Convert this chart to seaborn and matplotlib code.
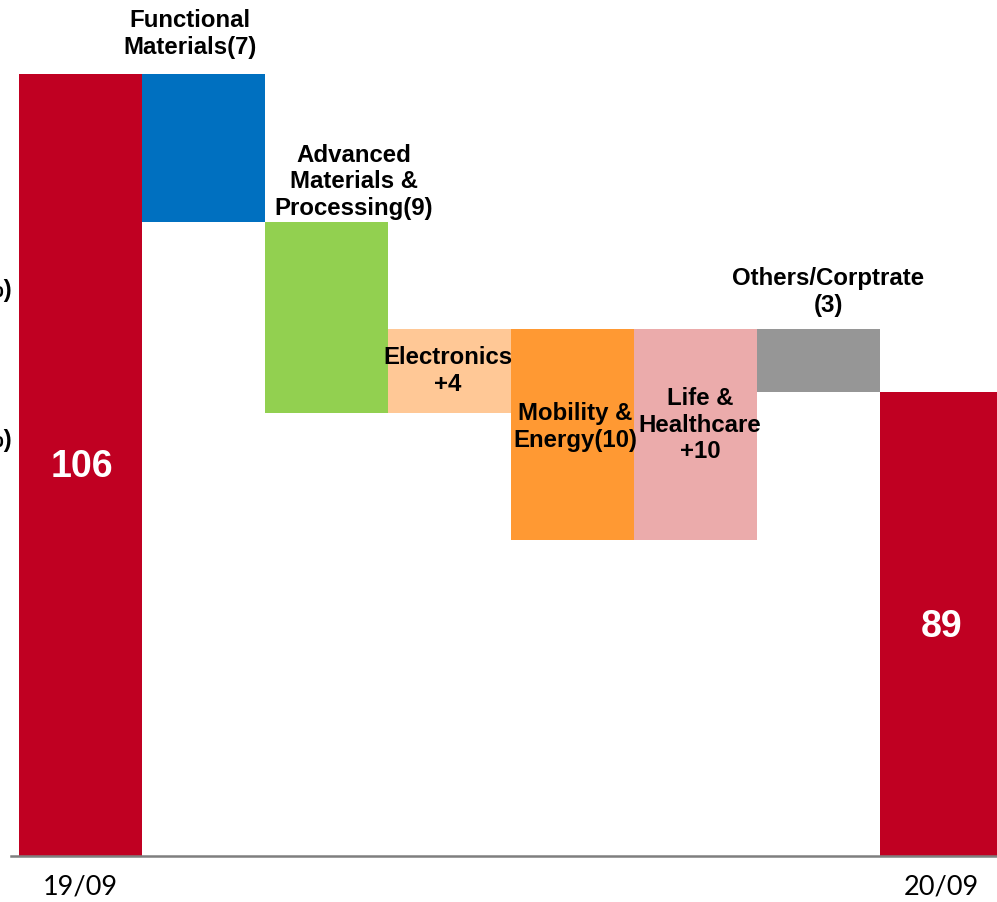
import matplotlib

matplotlib.use("Agg")
import matplotlib.pyplot as plt
import numpy as np
import pandas as pd
import seaborn as sns

# bar heights as drawn (schematic, not to the printed numbers)
categories = ["19/09", "Functional", "Advanced", "Electronics", "Mobility",
              "Life", "Others", "20/09"]
start_value = 106
steps = [-20.1, -25.9, 11.4, -28.6, 28.6, -8.5]
tick_labels = ["19/09", "", "", "", "", "", "", "20/09"]
bar_labels = ["106", "89"]
step_labels = [
    "Functional\nMaterials(7)",
    "Advanced\nMaterials &\nProcessing(9)",
    "Electronics\n+4",
    "Mobility &\nEnergy(10)",
    "Life &\nHealthcare\n+10",
    "Others/Corptrate\n(3)",
]
colors = ["#C00022", "#0070C0", "#92D050", "#FFC896", "#FF9933",
          "#EBABAB", "#969696", "#C00022"]

# waterfall tops / bottoms
levels = np.concatenate([[start_value], start_value + np.cumsum(steps)])
end_value = levels[-1]
tops, bottoms = [start_value], [0]
for prev, cur in zip(levels[:-1], levels[1:]):
    tops.append(max(prev, cur))
    bottoms.append(min(prev, cur))
tops.append(end_value)
bottoms.append(0)

df = pd.DataFrame({"cat": categories, "top": tops, "bottom": bottoms})

sns.set_style("white")
plt.rcParams["font.family"] = ["Liberation Sans", "DejaVu Sans"]

fig = plt.figure(figsize=(9.97, 9.02), dpi=100)
ax = fig.add_axes([11 / 997, 46 / 902, 1 - 11 / 997, 856 / 902])

sns.barplot(data=df, x="cat", y="top", hue="cat", palette=colors,
            width=1.0, legend=False, ax=ax, saturation=1, linewidth=0)
sns.barplot(data=df, x="cat", y="bottom", color="white",
            width=1.0, ax=ax, saturation=1, linewidth=0)

ax.set_xlim(-0.565, 7.45)
ax.set_ylim(0, 856 / 7.377)
for side in ["top", "right", "left"]:
    ax.spines[side].set_visible(False)
ax.spines["bottom"].set_color("#7F7F7F")
ax.spines["bottom"].set_linewidth(1.8)
ax.set_yticks([])
ax.set_xticks(range(len(categories)))
ax.set_xticklabels(tick_labels, fontsize=19.5, color="black",
                   family=["Lato", "DejaVu Sans"])
ax.tick_params(axis="x", length=0, pad=13)
ax.set_xlabel("")
ax.set_ylabel("")


def px(xp, yp):
    return (xp - 80.5) / 123, (856 - yp) / 7.377


label_pos = [(190, 34), (354, 182), (448, 371), (575, 427), (700, 425), (828, 292)]
for text, (xp, yp) in zip(step_labels, label_pos):
    x, y = px(xp, yp)
    ax.text(x, y, text, ha="center", va="center", fontsize=17.3,
            fontweight="bold", linespacing=1.17, color="black")

for text, (xp, yp) in zip(bar_labels, [(82, 467), (941, 627)]):
    x, y = px(xp, yp)
    ax.text(x, y, text, ha="center", va="center", fontsize=27,
            fontweight="bold", color="white")

# labels clipped by the left edge of the slide
for yp in [290, 440]:
    x, y = px(13, yp)
    ax.text(x, y, "(▲16%)", ha="right", va="center", fontsize=17.3,
            fontweight="bold", clip_on=False, color="black")

fig.savefig("out.png", dpi=100)
